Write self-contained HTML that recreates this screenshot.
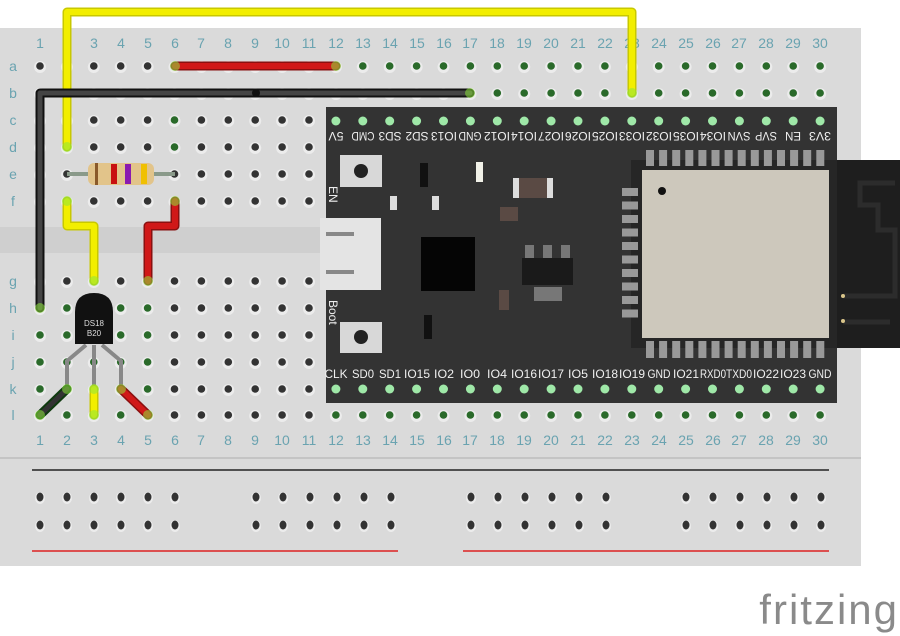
<!DOCTYPE html>
<html><head><meta charset="utf-8"><style>
html,body{margin:0;padding:0;background:#fff;}
svg{display:block;}
.n{font-family:"Liberation Sans",sans-serif;font-size:14px;fill:#6aa3b0;text-anchor:middle;}
.r{font-family:"Liberation Sans",sans-serif;font-size:14px;fill:#6aa3b0;text-anchor:middle;}
.p{font-family:"Liberation Sans",sans-serif;font-size:12px;fill:#f0f0f0;text-anchor:middle;}
</style></head><body>
<svg id="s" width="900" height="636" viewBox="0 0 900 636" xmlns="http://www.w3.org/2000/svg">
<rect x="0" y="28" width="861" height="538" fill="#dadada"/>
<rect x="0" y="227" width="861" height="26" fill="#cfcfcf"/>
<line x1="0" y1="458" x2="861" y2="458" stroke="#c4c4c4" stroke-width="2"/>
<line x1="32" y1="470" x2="829" y2="470" stroke="#222" stroke-width="1.5"/>
<line x1="32" y1="551" x2="398" y2="551" stroke="#d22" stroke-width="1.5"/>
<line x1="463" y1="551" x2="829" y2="551" stroke="#d22" stroke-width="1.5"/>
<g id="holes"></g>
<g class="n">
<text x="40" y="48">1</text><text x="94" y="48">3</text><text x="121" y="48">4</text><text x="148" y="48">5</text><text x="175" y="48">6</text><text x="201" y="48">7</text><text x="228" y="48">8</text><text x="255" y="48">9</text><text x="282" y="48">10</text><text x="309" y="48">11</text><text x="336" y="48">12</text><text x="363" y="48">13</text><text x="390" y="48">14</text><text x="417" y="48">15</text><text x="444" y="48">16</text><text x="470" y="48">17</text><text x="497" y="48">18</text><text x="524" y="48">19</text><text x="551" y="48">20</text><text x="578" y="48">21</text><text x="605" y="48">22</text><text x="632" y="48">23</text><text x="659" y="48">24</text><text x="686" y="48">25</text><text x="713" y="48">26</text><text x="739" y="48">27</text><text x="766" y="48">28</text><text x="793" y="48">29</text><text x="820" y="48">30</text>
<text x="40" y="445">1</text><text x="67" y="445">2</text><text x="94" y="445">3</text><text x="121" y="445">4</text><text x="148" y="445">5</text><text x="175" y="445">6</text><text x="201" y="445">7</text><text x="228" y="445">8</text><text x="255" y="445">9</text><text x="282" y="445">10</text><text x="309" y="445">11</text><text x="336" y="445">12</text><text x="363" y="445">13</text><text x="390" y="445">14</text><text x="417" y="445">15</text><text x="444" y="445">16</text><text x="470" y="445">17</text><text x="497" y="445">18</text><text x="524" y="445">19</text><text x="551" y="445">20</text><text x="578" y="445">21</text><text x="605" y="445">22</text><text x="632" y="445">23</text><text x="659" y="445">24</text><text x="686" y="445">25</text><text x="713" y="445">26</text><text x="739" y="445">27</text><text x="766" y="445">28</text><text x="793" y="445">29</text><text x="820" y="445">30</text>
</g>
<g class="r">
<text x="13" y="71">a</text><text x="13" y="98">b</text><text x="13" y="125">c</text><text x="13" y="152">d</text><text x="13" y="179">e</text><text x="13" y="206">f</text><text x="13" y="286">g</text><text x="13" y="313">h</text><text x="13" y="340">i</text><text x="13" y="367">j</text><text x="13" y="394">k</text><text x="13" y="420">l</text>
</g>
<rect x="326" y="107" width="511" height="296" fill="#333"/>
<rect x="836" y="160" width="64" height="188" fill="#1e1e1e"/>
<path d="M843 322 H890 M843 296 H895 V230 H878 V205 H860 V183 H895" stroke="#2c2c2c" stroke-width="5" fill="none"/>
<circle cx="843" cy="296" r="2" fill="#d9c58a"/><circle cx="843" cy="321" r="2" fill="#d9c58a"/>
<rect x="631" y="160" width="206" height="188" fill="#262626"/>
<g id="pads"></g>
<rect x="642" y="170" width="187" height="168" fill="#cdc8bc"/>
<circle cx="662" cy="191" r="4" fill="#111"/>
<rect x="340" y="155" width="42" height="32" fill="#d8d8d8"/><circle cx="361" cy="171" r="7" fill="#222"/>
<rect x="340" y="322" width="42" height="31" fill="#d8d8d8"/><circle cx="361" cy="337" r="7" fill="#222"/>
<rect x="320" y="218" width="61" height="72" fill="#e4e4e4"/>
<rect x="326" y="232" width="28" height="4" fill="#888"/><rect x="326" y="270" width="28" height="4" fill="#888"/>
<rect x="421" y="237" width="54" height="54" fill="#050505"/>
<rect x="522" y="258" width="51" height="27" fill="#1a1a1a"/>
<rect x="525" y="245" width="9" height="13" fill="#777"/><rect x="543" y="245" width="9" height="13" fill="#777"/><rect x="561" y="245" width="9" height="13" fill="#777"/>
<rect x="534" y="287" width="28" height="14" fill="#777"/>
<rect x="513" y="178" width="40" height="20" fill="#5a4a44"/><rect x="513" y="178" width="6" height="20" fill="#ddd"/><rect x="547" y="178" width="6" height="20" fill="#ddd"/>
<rect x="476" y="162" width="7" height="20" fill="#f1f1e8"/>
<rect x="390" y="196" width="7" height="14" fill="#ddd"/><rect x="432" y="196" width="7" height="14" fill="#ddd"/>
<rect x="500" y="207" width="18" height="14" fill="#5a4a44"/><rect x="499" y="290" width="10" height="20" fill="#5a4a44"/>
<rect x="420" y="163" width="8" height="24" fill="#111"/><rect x="424" y="315" width="8" height="24" fill="#111"/>
<g class="p" lengthAdjust="spacingAndGlyphs">
<text transform="translate(336,132) rotate(180)" textLength="15" lengthAdjust="spacingAndGlyphs">5V</text><text transform="translate(363,132) rotate(180)" textLength="23" lengthAdjust="spacingAndGlyphs">CMD</text><text transform="translate(390,132) rotate(180)" textLength="23" lengthAdjust="spacingAndGlyphs">SD3</text><text transform="translate(417,132) rotate(180)" textLength="23" lengthAdjust="spacingAndGlyphs">SD2</text><text transform="translate(444,132) rotate(180)" textLength="26" lengthAdjust="spacingAndGlyphs">IO13</text><text transform="translate(470,132) rotate(180)" textLength="23" lengthAdjust="spacingAndGlyphs">GND</text><text transform="translate(497,132) rotate(180)" textLength="26" lengthAdjust="spacingAndGlyphs">IO12</text><text transform="translate(524,132) rotate(180)" textLength="26" lengthAdjust="spacingAndGlyphs">IO14</text><text transform="translate(551,132) rotate(180)" textLength="26" lengthAdjust="spacingAndGlyphs">IO27</text><text transform="translate(578,132) rotate(180)" textLength="26" lengthAdjust="spacingAndGlyphs">IO26</text><text transform="translate(605,132) rotate(180)" textLength="26" lengthAdjust="spacingAndGlyphs">IO25</text><text transform="translate(632,132) rotate(180)" textLength="26" lengthAdjust="spacingAndGlyphs">IO33</text><text transform="translate(659,132) rotate(180)" textLength="26" lengthAdjust="spacingAndGlyphs">IO32</text><text transform="translate(686,132) rotate(180)" textLength="26" lengthAdjust="spacingAndGlyphs">IO35</text><text transform="translate(713,132) rotate(180)" textLength="26" lengthAdjust="spacingAndGlyphs">IO34</text><text transform="translate(739,132) rotate(180)" textLength="23" lengthAdjust="spacingAndGlyphs">SVN</text><text transform="translate(766,132) rotate(180)" textLength="22" lengthAdjust="spacingAndGlyphs">SVP</text><text transform="translate(793,132) rotate(180)" textLength="16" lengthAdjust="spacingAndGlyphs">EN</text><text transform="translate(820,132) rotate(180)" textLength="22" lengthAdjust="spacingAndGlyphs">3V3</text>
</g>
<g class="p">
<text x="336" y="378" textLength="23" lengthAdjust="spacingAndGlyphs">CLK</text><text x="363" y="378" textLength="22" lengthAdjust="spacingAndGlyphs">SD0</text><text x="390" y="378" textLength="22" lengthAdjust="spacingAndGlyphs">SD1</text><text x="417" y="378" textLength="26" lengthAdjust="spacingAndGlyphs">IO15</text><text x="444" y="378" textLength="20" lengthAdjust="spacingAndGlyphs">IO2</text><text x="470" y="378" textLength="20" lengthAdjust="spacingAndGlyphs">IO0</text><text x="497" y="378" textLength="20" lengthAdjust="spacingAndGlyphs">IO4</text><text x="524" y="378" textLength="26" lengthAdjust="spacingAndGlyphs">IO16</text><text x="551" y="378" textLength="26" lengthAdjust="spacingAndGlyphs">IO17</text><text x="578" y="378" textLength="20" lengthAdjust="spacingAndGlyphs">IO5</text><text x="605" y="378" textLength="26" lengthAdjust="spacingAndGlyphs">IO18</text><text x="632" y="378" textLength="26" lengthAdjust="spacingAndGlyphs">IO19</text><text x="659" y="378" textLength="23" lengthAdjust="spacingAndGlyphs">GND</text><text x="686" y="378" textLength="26" lengthAdjust="spacingAndGlyphs">IO21</text><text x="713" y="378" textLength="26" lengthAdjust="spacingAndGlyphs">RXD0</text><text x="739" y="378" textLength="26" lengthAdjust="spacingAndGlyphs">TXD0</text><text x="766" y="378" textLength="26" lengthAdjust="spacingAndGlyphs">IO22</text><text x="793" y="378" textLength="26" lengthAdjust="spacingAndGlyphs">IO23</text><text x="820" y="378" textLength="23" lengthAdjust="spacingAndGlyphs">GND</text>
</g>
<text transform="translate(329,186) rotate(90)" font-family="Liberation Sans,sans-serif" font-size="12" fill="#eee">EN</text>
<text transform="translate(329,300) rotate(90)" font-family="Liberation Sans,sans-serif" font-size="12" fill="#eee">Boot</text>
<g id="espdots"></g>
<g fill="none" stroke-linecap="round" stroke-linejoin="round">
<polyline points="67,147 67,12 632,12 632,93" stroke="#c8c800" stroke-width="9"/>
<polyline points="67,147 67,12 632,12 632,93" stroke="#f2ee00" stroke-width="6"/>
<line x1="175" y1="66" x2="336" y2="66" stroke="#8a1010" stroke-width="9"/><line x1="175" y1="66" x2="336" y2="66" stroke="#d01818" stroke-width="6"/>
<polyline points="470,93 40,93 40,308" stroke="#111" stroke-width="9"/><polyline points="470,93 40,93 40,308" stroke="#444" stroke-width="5"/>
<circle cx="256" cy="93" r="4" fill="#111"/>
<polyline points="67,201 67,226 94,226 94,281" stroke="#c8c800" stroke-width="9"/><polyline points="67,201 67,226 94,226 94,281" stroke="#f2ee00" stroke-width="6"/>
<polyline points="175,201 175,226 148,226 148,281" stroke="#8a1010" stroke-width="9"/><polyline points="175,201 175,226 148,226 148,281" stroke="#d01818" stroke-width="6"/>
</g>
<line x1="67" y1="174" x2="175" y2="174" stroke="#8a9a8a" stroke-width="4"/>
<rect x="88" y="163" width="66" height="22" rx="6" fill="#e2c48a"/>
<rect x="95" y="163" width="3" height="22" fill="#8a5a2a"/><rect x="111" y="164" width="6" height="20" fill="#c81010"/><rect x="125" y="164" width="6" height="20" fill="#8a1ab0"/><rect x="141" y="164" width="6" height="20" fill="#f0c000"/>
<g fill="none" stroke="#888" stroke-width="4">
<polyline points="86,345 67,361 67,389"/><polyline points="94,345 94,389"/><polyline points="102,345 121,361 121,389"/>
</g>
<path d="M75 312 Q75 293 94 293 Q113 293 113 312 V344 H75 Z" fill="#111"/>
<text x="94" y="326" font-family="Liberation Sans,sans-serif" font-size="8" fill="#ddd" text-anchor="middle">DS18</text>
<text x="94" y="336" font-family="Liberation Sans,sans-serif" font-size="8" fill="#ddd" text-anchor="middle">B20</text>
<g stroke-linecap="round">
<line x1="40" y1="415" x2="67" y2="389" stroke="#0f3a0f" stroke-width="9"/><line x1="40" y1="415" x2="67" y2="389" stroke="#333" stroke-width="5"/>
<line x1="94" y1="389" x2="94" y2="415" stroke="#c8c800" stroke-width="9"/><line x1="94" y1="389" x2="94" y2="415" stroke="#f2ee00" stroke-width="6"/>
<line x1="121" y1="389" x2="148" y2="415" stroke="#8a1010" stroke-width="9"/><line x1="121" y1="389" x2="148" y2="415" stroke="#d01818" stroke-width="6"/>
</g>
<g id="ends"></g>
<text x="899" y="624" font-family="Liberation Sans,sans-serif" font-size="42" fill="#8a8a8a" text-anchor="end" letter-spacing="2">fritzing</text>
</svg>
<script>
var NS="http://www.w3.org/2000/svg";
function el(p,t,a){var e=document.createElementNS(NS,t);for(var k in a)e.setAttribute(k,a[k]);p.appendChild(e);return e;}
var cx=function(n){return 40+(n-1)*26.9;};
var ry=[66,93,120,147,174,201,281,308,335,362,389,415];
var H=document.getElementById("holes");
function green(c,r){
 if(c>=12&&(r<=1||r==11))return true;
 if(c==6&&(r==2||r==3))return true;
 if(r>=6&&c>=2&&c<=5&&r!=6)return true;
 if(c==1&&r>=7)return true;
 return false;}
for(var c=1;c<=30;c++)for(var r=0;r<12;r++){
 var x=cx(c),y=ry[r];
 if(c>=12&&r>=2&&r<=10)continue;
 el(H,"circle",{cx:x,cy:y+1,r:6,fill:"#ececec"});
 el(H,"circle",{cx:x,cy:y,r:3.8,fill:green(c,r)?"#2a6a2a":"#333"});
}
var rx=[];[40,256,471,686].forEach(function(s){for(var i=0;i<6;i++)rx.push(s+i*27);});
rx.forEach(function(x){[497,525].forEach(function(y){el(H,"ellipse",{cx:x,cy:y+1,rx:5,ry:6,fill:"#ececec"});el(H,"ellipse",{cx:x,cy:y,rx:3.5,ry:4.5,fill:"#333"});});});
var E=document.getElementById("espdots");
for(var c=12;c<=30;c++){el(E,"circle",{cx:cx(c),cy:121,r:4.5,fill:"#9fe8a8"});el(E,"circle",{cx:cx(c),cy:389,r:4.5,fill:"#9fe8a8"});}
var P=document.getElementById("pads");
for(var i=0;i<14;i++){var x=646+i*13.1;el(P,"rect",{x:x,y:150,width:8,height:16,fill:"#999"});el(P,"rect",{x:x,y:341,width:8,height:17,fill:"#999"});}
for(var i=0;i<10;i++){el(P,"rect",{x:622,y:188+i*13.5,width:16,height:8,fill:"#999"});}
var Q=document.getElementById("ends");
[[67,147],[632,93],[470,93],[175,66],[336,66],[67,201],[94,281],[175,201],[148,281],[40,308],[40,415],[67,389],[94,389],[94,415],[121,389],[148,415]].forEach(function(p){el(Q,"circle",{cx:p[0],cy:p[1],r:5,fill:"rgba(140,230,60,0.55)"});});
</script>
</body></html>
